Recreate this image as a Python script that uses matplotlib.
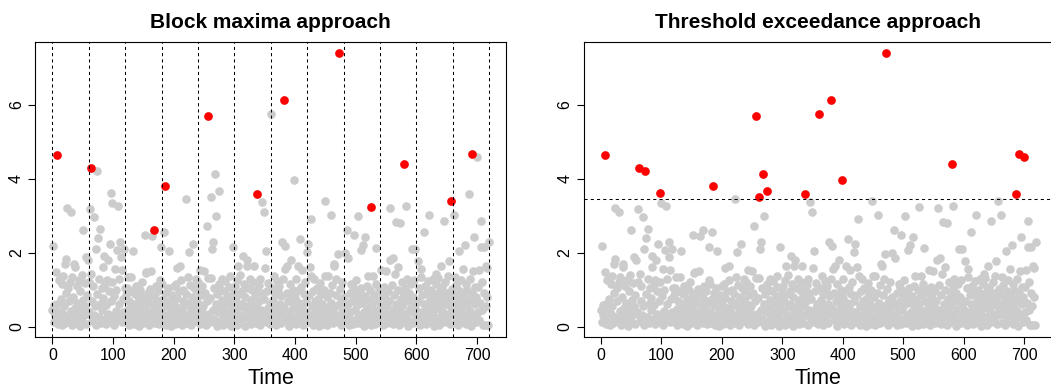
import numpy as np
import matplotlib
matplotlib.use("Agg")
import matplotlib.pyplot as plt

plt.rcParams["font.family"] = ["Liberation Sans", "DejaVu Sans"]

# daily series, one row per 60-day block
values = [
    0.45, 2.17, 0.12, 0.58, 0.30, 0.15, 1.47, 4.65, 0.62, 0.08, 1.25, 0.40, 0.20, 1.30, 0.75,
    0.05, 1.15, 0.35, 1.38, 0.55, 0.10, 1.70, 0.90, 1.83, 3.22, 0.25, 1.05, 0.68, 0.18, 1.20,
    3.09, 0.42, 1.35, 0.05, 0.80, 0.28, 1.70, 1.61, 0.50, 0.12, 1.10, 0.65, 0.22, 1.25, 0.38,
    0.02, 0.95, 0.48, 1.40, 0.15, 2.60, 0.72, 0.30, 1.18, 0.55, 1.88, 0.08, 0.85, 1.79, 0.35,
    0.40, 1.20, 3.17, 4.29, 1.43, 0.15, 0.70, 1.10, 0.30, 2.96, 0.55, 2.10, 0.05, 4.22, 0.88,
    2.40, 0.25, 1.30, 2.65, 0.62, 0.10, 1.05, 0.45, 0.78, 1.61, 1.92, 0.20, 1.15, 0.58, 0.08,
    1.25, 1.79, 0.35, 0.95, 0.15, 2.24, 0.68, 3.62, 1.20, 3.34, 0.28, 0.82, 0.05, 1.56, 0.42,
    1.00, 2.06, 0.18, 3.26, 0.60, 1.28, 0.35, 2.29, 1.88, 1.52, 0.12, 0.75, 0.40, 2.10, 1.05,
    0.30, 0.85, 0.12, 1.05, 1.35, 0.48, 0.05, 0.70, 0.22, 0.95, 1.34, 0.40, 0.15, 2.05, 0.62,
    0.08, 0.88, 0.30, 1.10, 0.52, 0.18, 1.11, 0.75, 0.02, 0.42, 0.98, 0.25, 0.60, 1.20, 0.10,
    0.80, 0.35, 0.55, 2.49, 1.45, 1.47, 0.20, 0.68, 0.92, 0.05, 0.38, 1.02, 0.15, 1.50, 2.44,
    0.58, 0.28, 0.82, 2.62, 0.10, 0.45, 1.11, 0.72, 0.20, 0.95, 0.35, 0.08, 0.62, 1.25, 2.14,
    1.16, 0.40, 0.10, 0.75, 2.57, 3.80, 0.25, 0.90, 0.05, 0.55, 1.05, 0.30, 2.04, 0.15, 0.68,
    0.38, 0.02, 0.85, 0.48, 0.20, 1.10, 0.62, 0.08, 0.35, 1.16, 0.78, 1.59, 0.12, 0.50, 0.95,
    0.28, 1.65, 1.25, 0.42, 0.05, 0.70, 1.00, 0.18, 0.58, 0.32, 0.88, 3.44, 0.10, 1.34, 0.65,
    2.01, 0.22, 1.12, 0.45, 0.05, 0.80, 0.35, 2.24, 0.55, 1.05, 0.15, 0.72, 1.28, 0.40, 0.95,
    1.20, 0.30, 0.62, 1.54, 0.08, 0.85, 0.40, 1.10, 0.18, 0.55, 1.50, 0.25, 0.92, 0.05, 2.73,
    0.68, 1.32, 5.71, 0.35, 0.78, 0.12, 3.52, 1.32, 2.10, 2.29, 0.45, 1.05, 0.20, 4.14, 3.00,
    0.60, 0.02, 0.88, 0.38, 3.66, 1.15, 0.15, 1.02, 0.50, 0.72, 1.30, 0.28, 0.05, 0.95, 0.42,
    1.22, 0.18, 0.65, 0.10, 0.82, 0.35, 1.08, 1.38, 0.22, 0.58, 0.02, 0.75, 2.15, 0.48, 0.90,
    0.40, 1.10, 0.15, 0.70, 0.05, 1.25, 1.65, 0.30, 0.88, 0.52, 1.40, 0.12, 0.95, 0.62, 1.90,
    0.25, 1.15, 0.80, 0.02, 0.45, 1.65, 1.79, 0.35, 1.05, 0.58, 0.18, 1.30, 0.72, 0.08, 0.98,
    0.40, 1.20, 1.65, 0.28, 0.85, 0.10, 0.55, 3.58, 1.00, 0.32, 0.68, 1.12, 0.05, 1.29, 0.45,
    0.90, 3.38, 0.20, 0.75, 3.10, 1.59, 0.38, 2.04, 0.12, 0.95, 0.50, 1.18, 0.25, 0.62, 0.08,
    5.76, 0.45, 1.05, 0.15, 0.72, 0.30, 1.38, 0.88, 0.05, 0.58, 1.22, 0.20, 0.95, 0.40, 1.10,
    0.62, 0.10, 0.82, 2.29, 0.35, 1.28, 6.14, 0.50, 2.18, 1.56, 0.18, 0.90, 1.64, 0.28, 0.70,
    0.02, 1.15, 0.42, 0.85, 1.79, 0.12, 0.60, 1.00, 3.97, 0.25, 0.78, 1.30, 0.08, 0.48, 0.95,
    1.65, 0.32, 0.65, 2.38, 0.15, 1.08, 0.55, 1.54, 0.05, 0.88, 0.38, 1.20, 0.22, 0.70, 2.01,
    0.40, 2.24, 0.12, 0.85, 1.61, 0.30, 2.92, 1.36, 0.55, 0.05, 0.95, 0.20, 1.29, 0.68, 0.10,
    0.42, 1.05, 0.28, 0.75, 0.02, 0.58, 1.18, 0.15, 0.88, 0.35, 0.62, 0.08, 1.00, 0.48, 3.40,
    1.36, 0.22, 0.80, 0.05, 1.38, 0.52, 0.18, 0.92, 0.38, 3.01, 0.65, 1.12, 0.10, 0.45, 1.70,
    1.63, 0.28, 0.85, 1.29, 0.15, 1.97, 0.58, 7.40, 0.32, 1.02, 0.05, 0.72, 0.40, 1.20, 0.20,
    0.35, 0.80, 1.99, 0.12, 0.55, 2.60, 0.25, 1.85, 0.62, 0.05, 0.92, 0.40, 0.18, 1.16, 0.70,
    1.07, 0.08, 2.48, 0.45, 0.88, 0.20, 1.25, 0.58, 2.99, 0.10, 0.78, 0.32, 0.95, 2.06, 1.05,
    0.15, 0.65, 2.20, 0.38, 0.02, 0.82, 2.42, 0.28, 1.10, 0.50, 1.38, 0.12, 0.72, 0.35, 0.98,
    0.05, 3.23, 0.60, 0.22, 1.38, 0.85, 0.42, 0.08, 1.15, 2.13, 0.30, 0.68, 0.15, 1.02, 0.48,
    0.40, 0.90, 1.54, 0.15, 0.62, 0.05, 1.08, 0.30, 0.78, 0.20, 1.50, 0.52, 0.10, 0.95, 0.38,
    0.70, 1.79, 3.22, 0.25, 1.12, 0.45, 1.85, 0.08, 0.85, 0.32, 1.43, 2.82, 0.60, 0.18, 1.00,
    1.61, 0.42, 0.05, 2.81, 0.75, 0.28, 1.20, 0.55, 0.12, 0.88, 4.41, 0.35, 1.05, 3.25, 1.29,
    0.20, 0.68, 0.02, 0.92, 0.48, 0.15, 1.15, 2.10, 0.38, 0.80, 0.10, 1.25, 0.58, 2.09, 0.30,
    0.45, 0.12, 1.77, 0.70, 0.25, 1.05, 0.05, 1.56, 1.34, 0.38, 0.85, 0.18, 0.60, 2.55, 1.10,
    0.30, 0.08, 0.92, 0.50, 1.22, 3.01, 0.22, 0.75, 0.40, 1.00, 0.10, 0.65, 1.28, 0.32, 0.02,
    0.88, 0.48, 1.15, 1.43, 0.15, 0.72, 1.32, 0.55, 0.05, 0.95, 1.65, 0.28, 1.08, 0.42, 0.80,
    2.85, 0.12, 0.62, 1.20, 0.35, 0.90, 0.20, 1.38, 0.58, 1.77, 0.08, 0.78, 3.40, 0.45, 1.02,
    0.30, 0.85, 3.02, 1.34, 0.10, 0.62, 1.12, 0.40, 0.05, 0.78, 2.04, 0.25, 0.95, 0.50, 1.25,
    0.15, 0.68, 1.56, 0.35, 0.88, 2.20, 1.16, 0.08, 0.55, 1.00, 0.20, 3.60, 0.72, 1.30, 0.42,
    0.02, 0.90, 4.66, 1.50, 0.28, 2.42, 0.60, 1.08, 0.12, 0.80, 4.58, 0.38, 1.07, 1.54, 0.18,
    0.65, 2.15, 2.87, 0.45, 1.20, 0.05, 0.92, 2.15, 0.03, 0.55, 1.65, 1.59, 0.79, 0.03, 2.30,
]
block_size = 60
threshold = 3.46
x_ticks = [0, 100, 200, 300, 400, 500, 600, 700]
y_ticks = [0, 2, 4, 6]

y = np.array(values)
t = np.arange(len(y))

# block maxima: largest value in each 60-day block
blocks = t // block_size
bm_idx = np.array([np.where(blocks == b)[0][np.argmax(y[blocks == b])] for b in np.unique(blocks)])
# peaks over threshold
exc = y > threshold

grey = "#CCCCCC"
ms = 6.2

fig = plt.figure(figsize=(10.51, 3.90), dpi=100)
ax1 = fig.add_axes([35 / 1051, 1 - 336.7 / 390, 471 / 1051, 294.4 / 390])
ax2 = fig.add_axes([583.6 / 1051, 1 - 336.7 / 390, 469.3 / 1051, 294.4 / 390])

xlim = (t.min() - 0.04 * np.ptp(t), t.max() + 0.04 * np.ptp(t))
ylim = (y.min() - 0.04 * np.ptp(y), y.max() + 0.04 * np.ptp(y))

for ax in (ax1, ax2):
    ax.plot(t, y, "o", color=grey, ms=ms, mew=0, zorder=2)
    ax.set_xlim(xlim)
    ax.set_ylim(ylim)
    ax.set_xticks(x_ticks)
    ax.set_yticks(y_ticks)
    ax.tick_params(direction="out", length=5, width=0.8, labelsize=11.5, pad=3)
    plt.setp(ax.get_yticklabels(), rotation=90, va="center")
    for s in ax.spines.values():
        s.set_linewidth(0.8)
    ax.set_xlabel("Time", fontsize=15.5, labelpad=4)

ax1.plot(t[bm_idx], y[bm_idx], "o", color="red", ms=ms, mew=0, zorder=3)
for b in range(0, len(y) + 1, block_size):
    ax1.axvline(b, color="black", lw=0.75, ls=(0, (3, 3)), zorder=4)
ax1.set_title("Block maxima approach", fontsize=15, fontweight="bold", pad=10)

ax2.plot(t[exc], y[exc], "o", color="red", ms=ms, mew=0, zorder=3)
ax2.axhline(threshold, color="black", lw=0.75, ls=(0, (3, 3)), zorder=4)
ax2.set_title("Threshold exceedance approach", fontsize=15, fontweight="bold", pad=10)

fig.savefig("out.png", dpi=100)
